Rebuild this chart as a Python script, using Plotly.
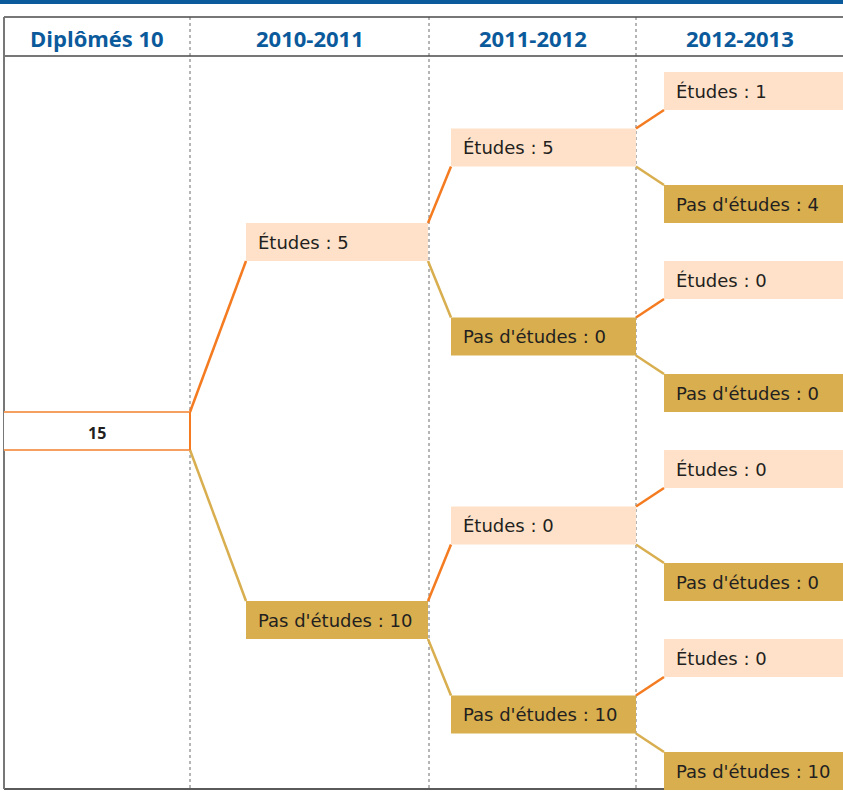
import plotly.graph_objects as go

# ---------------- data ----------------
headers = ["Diplômés 10", "2010-2011", "2011-2012", "2012-2013"]
root_value = 15
l1_labels = ["Études", "Pas d'études"]
l1_values = [5, 10]
l2_labels = ["Études", "Pas d'études", "Études", "Pas d'études"]
l2_values = [5, 0, 0, 10]
l3_labels = ["Études", "Pas d'études"] * 4
l3_values = [1, 4, 0, 0, 0, 0, 0, 10]

# ---------------- style / geometry ----------------
W, H = 843, 795
BLUE = "#0b5a9c"
PEACH = "#fee1c8"
GOLD = "#d8ae4f"
ORANGE = "#f47b20"
GOLD_LINE = "#d8ae4f"
TEXT = "#231f20"
HEAD_FONT = "Open Sans"
BOX_FONT = "DejaVu Sans"

col_sep = [190, 429, 636]
box_x = [(4, 190), (246, 428), (451, 636), (664, 843)]
BOX_H = 38
HEAD_TOP, HEAD_BOT, BOTTOM = 17, 56, 789

# tree layout (vertical centres)
c3 = [91 + 189 * (k // 2) + 113 * (k % 2) for k in range(8)]
c2 = [(c3[2 * j] + c3[2 * j + 1]) / 2 for j in range(4)]
c1 = [(c2[2 * i] + c2[2 * i + 1]) / 2 for i in range(2)]
c0 = (c1[0] + c1[1]) / 2

fig = go.Figure()
shapes = []
annotations = []

# top blue band
shapes.append(dict(type="rect", x0=0, x1=W, y0=0, y1=4, fillcolor=BLUE, line_width=0, layer="below"))

# column separators (dotted)
for x in col_sep:
    shapes.append(dict(type="line", x0=x, x1=x, y0=HEAD_TOP, y1=BOTTOM,
                       line=dict(color="#6d6d6d", width=1, dash="dot"), layer="below"))

# header frame lines
shapes.append(dict(type="line", x0=4, x1=W, y0=HEAD_TOP, y1=HEAD_TOP, line=dict(color="#4a4a4a", width=1.5)))
shapes.append(dict(type="line", x0=4, x1=W, y0=HEAD_BOT, y1=HEAD_BOT, line=dict(color="#4a4a4a", width=1.5)))
shapes.append(dict(type="line", x0=4, x1=W, y0=BOTTOM, y1=BOTTOM, line=dict(color="#5a5a5a", width=2)))
shapes.append(dict(type="line", x0=4, x1=4, y0=HEAD_TOP, y1=BOTTOM, line=dict(color="#777777", width=2)))

# header texts
col_edges = [4] + col_sep + [W]
for i, h in enumerate(headers):
    annotations.append(dict(x=(col_edges[i] + col_edges[i + 1]) / 2, y=(HEAD_TOP + HEAD_BOT) / 2 + 1,
                            text="<b>%s</b>" % h, showarrow=False, xanchor="center", yanchor="middle",
                            font=dict(family=HEAD_FONT, size=22, color=BLUE)))

# root box
rx0, rx1 = box_x[0]
ry0, ry1 = c0 - BOX_H / 2, c0 + BOX_H / 2
shapes.append(dict(type="rect", x0=rx0, x1=rx1, y0=ry0, y1=ry1, fillcolor="white", line_width=0))
shapes.append(dict(type="line", x0=rx0, x1=rx1, y0=ry0, y1=ry0, line=dict(color="#f5a060", width=2)))
shapes.append(dict(type="line", x0=rx0, x1=rx1, y0=ry1, y1=ry1, line=dict(color="#f5a060", width=2)))
shapes.append(dict(type="line", x0=rx1, x1=rx1, y0=ry0, y1=ry1, line=dict(color=ORANGE, width=2)))
annotations.append(dict(x=(rx0 + rx1) / 2, y=c0 + 2, text="<b>%d</b>" % root_value, showarrow=False,
                        xanchor="center", yanchor="middle", font=dict(family=HEAD_FONT, size=16, color=TEXT)))


def add_box(level, yc, label, value):
    x0, x1 = box_x[level]
    fill = PEACH if label == "Études" else GOLD
    shapes.append(dict(type="rect", x0=x0, x1=x1, y0=yc - BOX_H / 2, y1=yc + BOX_H / 2,
                       fillcolor=fill, line_width=0))
    annotations.append(dict(x=x0 + 10, y=yc, text="%s : %d" % (label, value), showarrow=False,
                            xanchor="left", yanchor="middle", font=dict(family=BOX_FONT, size=18, color=TEXT)))


def add_link(level_parent, yp, yc, kind):
    # kind 0 -> Études (upper child), 1 -> Pas d'études (lower child)
    xp = box_x[level_parent][1]
    xc = box_x[level_parent + 1][0]
    if kind == 0:
        ys, ye = yp - BOX_H / 2, yc + BOX_H / 2
        col = ORANGE
    else:
        ys, ye = yp + BOX_H / 2, yc - BOX_H / 2
        col = GOLD_LINE
    fig.add_trace(go.Scatter(x=[xp, xc], y=[ys, ye], mode="lines",
                             line=dict(color=col, width=2.5), hoverinfo="skip", showlegend=False))


for i in range(2):
    add_box(1, c1[i], l1_labels[i], l1_values[i])
    add_link(0, c0, c1[i], i)
for j in range(4):
    add_box(2, c2[j], l2_labels[j], l2_values[j])
    add_link(1, c1[j // 2], c2[j], j % 2)
for k in range(8):
    add_box(3, c3[k], l3_labels[k], l3_values[k])
    add_link(2, c2[k // 2], c3[k], k % 2)

fig.update_layout(
    width=W, height=H, margin=dict(l=0, r=0, t=0, b=0),
    paper_bgcolor="white", plot_bgcolor="white",
    xaxis=dict(range=[0, W], visible=False, fixedrange=True),
    yaxis=dict(range=[H, 0], visible=False, fixedrange=True),
    shapes=shapes, annotations=annotations, showlegend=False,
)
fig.write_html("out.html", config={"displayModeBar": False},
               post_script="document.body.style.margin='0';document.body.style.overflow='hidden';")
